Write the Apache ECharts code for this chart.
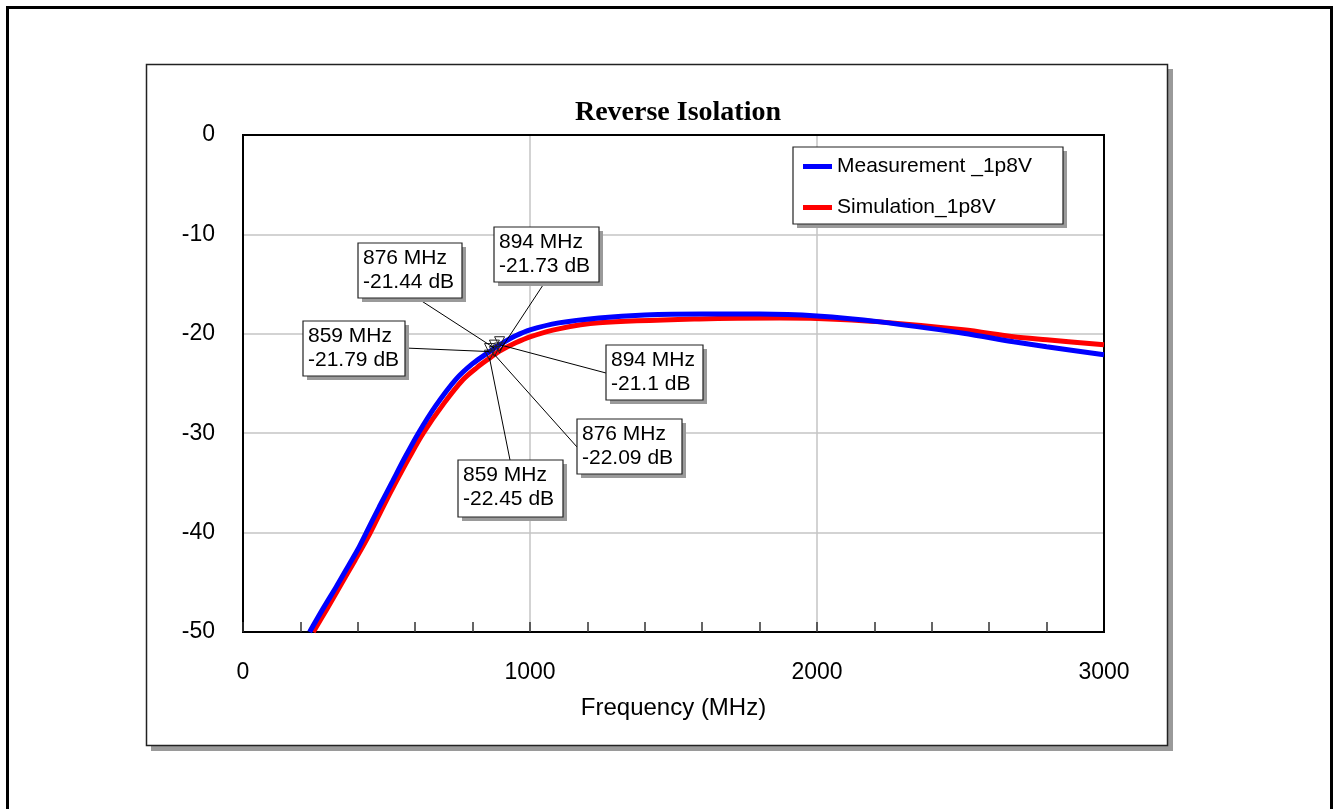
<!DOCTYPE html>
<html>
<head>
<meta charset="utf-8">
<script src="https://cdn.jsdelivr.net/npm/echarts@6/dist/echarts.min.js"></script>
<style>
html,body{margin:0;padding:0;background:#fff;}
#chart{width:1334px;height:809px;}
</style>
</head>
<body>
<div id="chart"></div>
<script>
// ---- data ----
const seriesNames = ['Measurement _1p8V', 'Simulation_1p8V'];
const measFreq = [232, 280, 326, 370, 400, 428, 475, 520, 565, 611, 670, 741, 800, 859, 876, 894, 950, 1000, 1100, 1240, 1400, 1600, 1800, 2000, 2220, 2510, 2685, 2800, 3000];
const measDb   = [-50, -47.6, -45.4, -43.2, -41.7, -40.1, -37.4, -34.9, -32.4, -30.0, -27.3, -24.6, -23.0, -21.79, -21.44, -21.1, -20.2, -19.6, -18.9, -18.4, -18.1, -18.0, -18.0, -18.2, -18.8, -19.95, -20.8, -21.3, -22.1];
const simFreq  = [245, 292, 338, 390, 442, 490, 535, 580, 628, 700, 767, 815, 859, 876, 894, 950, 1000, 1100, 1240, 1590, 1870, 2000, 2220, 2510, 2685, 2800, 3000];
const simDb    = [-50, -47.7, -45.4, -42.8, -40.1, -37.3, -34.8, -32.4, -30.0, -27.0, -24.6, -23.4, -22.45, -22.09, -21.73, -20.9, -20.3, -19.5, -18.9, -18.5, -18.4, -18.45, -18.8, -19.6, -20.3, -20.6, -21.1];
const markerFreq = [859, 876, 894];
const markerMeas = [-21.79, -21.44, -21.1];
const markerSim  = [-22.45, -22.09, -21.73];
const xTickLabels = ['0', '1000', '2000', '3000'];
const yTickLabels = ['-50', '-40', '-30', '-20', '-10', '0'];

// ---- annotation layout (pixel positions of boxes only) ----
const annLayout = [
  {s: 0, i: 0, x: 303, y: 321, w: 102, h: 55, ax: 405, ay: 348},
  {s: 0, i: 1, x: 358, y: 243, w: 104, h: 55, ax: 417, ay: 298},
  {s: 0, i: 2, x: 606, y: 345, w: 97,  h: 55, ax: 606, ay: 373},
  {s: 1, i: 0, x: 458, y: 460, w: 105, h: 57, ax: 510, ay: 460},
  {s: 1, i: 1, x: 577, y: 419, w: 105, h: 55, ax: 577, ay: 447},
  {s: 1, i: 2, x: 494, y: 227, w: 105, h: 55, ax: 545, ay: 282}
];

const FONT = '"Liberation Sans", Arial, sans-serif';
const chart = echarts.init(document.getElementById('chart'), null, {renderer: 'canvas'});

function pairs(xs, ys) { return xs.map((x, k) => [x, ys[k]]); }
function markers(vals) {
  return markerFreq.map((f, k) => ({coord: [f, vals[k]]}));
}
const markStyle = {
  symbol: 'triangle', symbolRotate: 180, symbolSize: [10, 10], symbolOffset: [0, -3],
  itemStyle: {color: 'rgba(255,255,255,0)', borderColor: '#222', borderWidth: 1},
  label: {show: false}, silent: true, animation: false
};

const option = {
  animation: false,
  title: {
    text: 'Reverse Isolation', left: 673, top: 94, textAlign: 'center',
    textStyle: {fontFamily: '"Liberation Serif", "Times New Roman", serif', fontWeight: 'bold', fontSize: 28, color: '#000'}
  },
  grid: {left: 243, top: 135, right: 230, bottom: 177, show: true, borderColor: '#000', borderWidth: 2, backgroundColor: 'transparent'},
  legend: {
    orient: 'vertical', left: 798, top: 151, itemGap: 20, z: 20,
    icon: 'rect', itemWidth: 29, itemHeight: 5,
    data: seriesNames,
    textStyle: {fontFamily: FONT, fontSize: 21, color: '#000'}
  },
  xAxis: {
    type: 'value', min: 0, max: 3000, interval: 1000,
    name: 'Frequency (MHz)', nameLocation: 'middle', nameGap: 64,
    nameTextStyle: {fontFamily: FONT, fontSize: 24, color: '#000'},
    axisLine: {show: true, onZero: false, lineStyle: {color: '#000', width: 2}},
    axisTick: {show: true, inside: true, length: 10, lineStyle: {color: '#333', width: 1.5}},
    minorTick: {show: true, splitNumber: 5, length: 10, lineStyle: {color: '#333', width: 1.5}},
    axisLabel: {fontFamily: FONT, fontSize: 23, color: '#000', margin: 29,
      formatter: v => xTickLabels[Math.round(v / 1000)]},
    splitLine: {show: true, showMinLine: false, showMaxLine: false, lineStyle: {color: '#c4c4c4', width: 1.5}}
  },
  yAxis: {
    type: 'value', min: -50, max: 0, interval: 10,
    axisLine: {show: true, onZero: false, lineStyle: {color: '#000', width: 2}},
    axisTick: {show: false},
    axisLabel: {fontFamily: FONT, fontSize: 23, color: '#000', margin: 28,
      formatter: v => yTickLabels[Math.round((v + 50) / 10)]},
    splitLine: {show: true, showMinLine: false, showMaxLine: false, lineStyle: {color: '#c4c4c4', width: 1.5}}
  },
  series: [
    {
      name: seriesNames[0], type: 'line', data: pairs(measFreq, measDb),
      color: '#0000ff', showSymbol: false, smooth: 0.3,
      lineStyle: {width: 5, color: '#0000ff'}, z: 4,
      markPoint: Object.assign({data: markers(markerMeas)}, markStyle)
    },
    {
      name: seriesNames[1], type: 'line', data: pairs(simFreq, simDb),
      color: '#ff0000', showSymbol: false, smooth: 0.3,
      lineStyle: {width: 5, color: '#ff0000'}, z: 3,
      markPoint: Object.assign({data: markers(markerSim)}, markStyle)
    }
  ]
};
chart.setOption(option);

// ---- decorations: frames, legend box, annotations ----
const g = [];
function shadowBox(x, y, w, h, off, zz, lw) {
  g.push({type: 'rect', shape: {x: x + off, y: y + off, width: w, height: h}, style: {fill: '#9a9a9a'}, z: zz, z2: 0, silent: true});
  g.push({type: 'rect', shape: {x: x, y: y, width: w, height: h}, style: {fill: '#fff', stroke: '#222', lineWidth: lw || 1}, z: zz, z2: 1, silent: true});
}
// outer frame
g.push({type: 'rect', shape: {x: 7.5, y: 7.5, width: 1324, height: 900}, style: {fill: 'none', stroke: '#000', lineWidth: 3}, z: 0, silent: true});
// inner frame with shadow strips
g.push({type: 'rect', shape: {x: 1168, y: 69, width: 5, height: 682}, style: {fill: '#9a9a9a'}, z: 0, silent: true});
g.push({type: 'rect', shape: {x: 151, y: 746, width: 1022, height: 5}, style: {fill: '#9a9a9a'}, z: 0, silent: true});
g.push({type: 'rect', shape: {x: 146.5, y: 64.5, width: 1021, height: 681}, style: {fill: 'none', stroke: '#222', lineWidth: 1.5}, z: 0, silent: true});
// plot border (top/right) drawn crisp black
g.push({type: 'polyline', shape: {points: [[243, 135], [1104, 135], [1104, 632]]}, style: {fill: 'none', stroke: '#000', lineWidth: 2}, z: 1, silent: true});
// legend box (behind legend)
shadowBox(793, 147, 270, 77, 4, 5, 1.2);

// annotations
const markerVals = [markerMeas, markerSim];
annLayout.forEach(a => {
  const f = markerFreq[a.i], v = markerVals[a.s][a.i];
  const p = chart.convertToPixel({gridIndex: 0}, [f, v]);
  g.push({type: 'line', shape: {x1: a.ax, y1: a.ay, x2: p[0], y2: p[1]}, style: {stroke: '#000', lineWidth: 1}, z: 9, silent: true});
  shadowBox(a.x, a.y, a.w, a.h, 4, 10, 1.2);
  g.push({type: 'text', x: a.x + 5, y: a.y + 3, z: 10, z2: 2, silent: true,
    style: {text: f + ' MHz\n' + v + ' dB', font: '21px ' + FONT, fill: '#000', lineHeight: 24, verticalAlign: 'top', align: 'left'}});
});
chart.setOption({graphic: g});
</script>
</body>
</html>
